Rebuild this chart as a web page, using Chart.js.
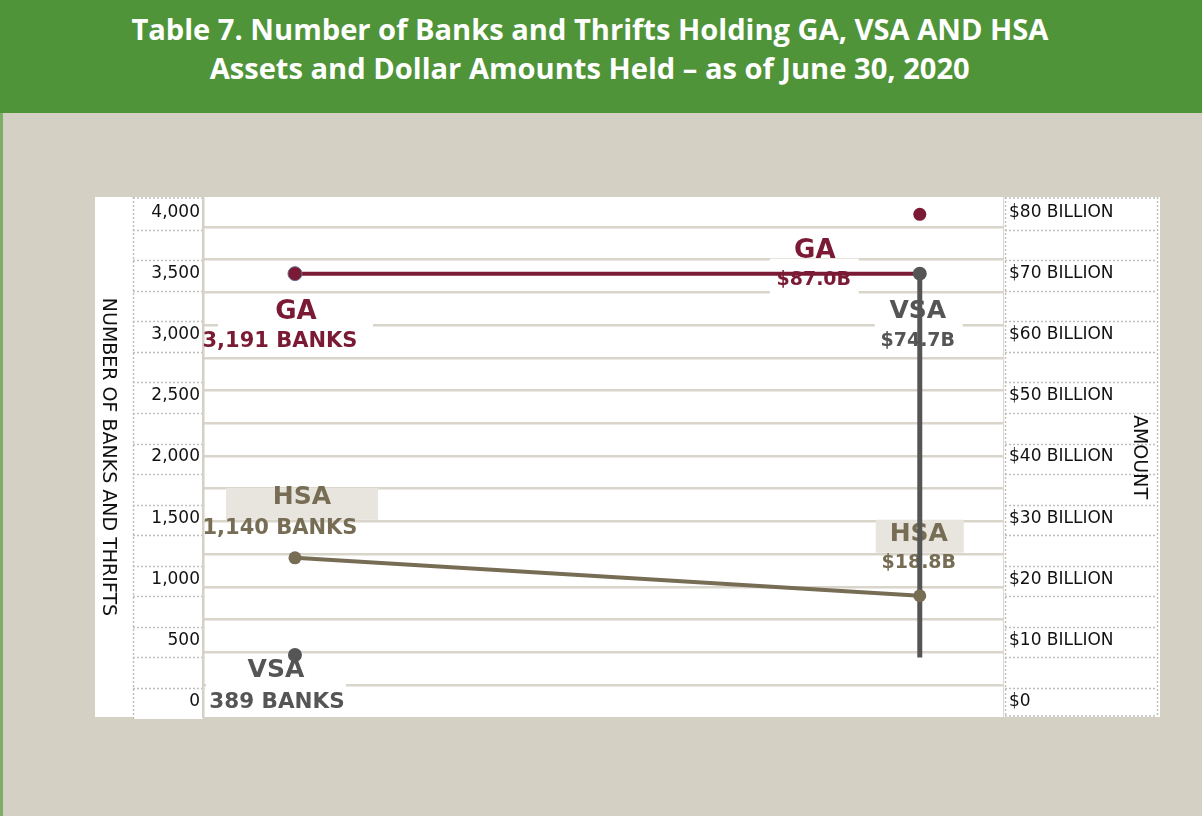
<!DOCTYPE html>
<html>
<head>
<meta charset="utf-8">
<script src="https://cdn.jsdelivr.net/npm/chart.js@4/dist/chart.umd.min.js"></script>
<style>
html,body{margin:0;padding:0;}
body{width:1202px;height:816px;overflow:hidden;background:#D4D0C4;position:relative;}
#hdr{position:absolute;left:0;top:0;width:1202px;height:113px;background:#4F9439;}
.tl{position:absolute;left:0;width:1180px;text-align:center;color:#fff;font-family:"Open Sans";font-weight:bold;font-size:29px;line-height:29px;white-space:nowrap;}
.tl span{display:inline-block;transform-origin:50% 50%;}
#edge{position:absolute;left:0;top:113px;width:3px;height:703px;background:#7DAF66;}
#cv{position:absolute;left:0;top:0;}
</style>
</head>
<body>
<div id="hdr">
  <div class="tl" id="t1" style="top:14px"><span>Table 7. Number of Banks and Thrifts Holding GA, VSA AND HSA</span></div>
  <div class="tl" id="t2" style="top:53px"><span>Assets and Dollar Amounts Held – as of June 30, 2020</span></div>
</div>
<div id="edge"></div>
<canvas id="cv" width="1202" height="816"></canvas>
<script>
// ---------- data ----------
const categories   = ['NUMBER OF BANKS AND THRIFTS', 'AMOUNT'];   // x = 0 and x = 1
const bankTicks    = [0, 500, 1000, 1500, 2000, 2500, 3000, 3500, 4000];
const amountTicks  = [0, 10, 20, 30, 40, 50, 60, 70, 80];          // $ billion
const seriesNames  = ['GA', 'VSA', 'HSA'];
const bankDots     = [3500, 380, 1175];   // left-hand dots, on the banks axis
const amountDots   = [70, 70, 17.3];      // right-hand dots, on the $ billion axis
const bankText     = ['3,191 BANKS', '389 BANKS', '1,140 BANKS'];
const amountText   = ['$87.0B', '$74.7B', '$18.8B'];
const vsaDropEnd   = [7.2];               // $ billion, lower end of the VSA drop line
const gaExtraDot   = [79.7];              // $ billion, lone GA marker near the top

// ---------- styling / layout ----------
const RATIO = bankTicks[bankTicks.length - 1] / amountTicks[amountTicks.length - 1];
const COL = { GA: '#7B1A35', VSA: '#555555', HSA: '#776D55' };
const BOX_BEIGE = '#E8E5DE';
const Y_MIN = -127, Y_MAX = 4127;

// title fitting (line 1 spans ~917px in the reference)
(function fitTitle(){
  const s1 = document.querySelector('#t1 span'), s2 = document.querySelector('#t2 span');
  const k = 917 / s1.getBoundingClientRect().width;
  s1.style.transform = 'scaleX(' + k + ')';
  s2.style.transform = 'scaleX(' + k + ')';
})();

// label layout: offsets (px) from the anchor dot, per series and side
const labelLayout = [
  { s: 0, side: 'L', box: [-77, 24, 155, 55, '#ffffff'], name: [1, 36, 26], val: [-15, 66, 21] },
  { s: 1, side: 'L', box: [-89, 25, 140, 37, '#ffffff'], name: [-19, 13, 25], val: [-18, 45, 21.5] },
  { s: 2, side: 'L', box: [-69, -70, 152, 32, BOX_BEIGE], name: [7, -63, 25], val: [-15, -32, 21] },
  { s: 0, side: 'R', box: [-150, -15, 89, 37, '#ffffff'], name: [-105, -25, 26], val: [-106, 4, 19] },
  { s: 1, side: 'R', box: [-45, 46, 88, 34, '#ffffff'], name: [-2, 35, 25], val: [-2, 65, 19] },
  { s: 2, side: 'R', box: [-44, -76, 88, 33, BOX_BEIGE], name: [-1, -64, 25], val: [-1, -35, 19] }
];

const decor = {
  id: 'decor',
  beforeDraw(chart) {
    const ctx = chart.ctx, ca = chart.chartArea, y = chart.scales.y;
    ctx.save();
    ctx.fillStyle = '#ffffff';
    ctx.fillRect(95, ca.top, 1160 - 95, ca.bottom - ca.top);
    ctx.fillRect(133, ca.bottom, 70, 2);
    // dotted band lines in the tick columns
    ctx.strokeStyle = '#BEBEBE';
    ctx.lineWidth = 1.5;
    ctx.setLineDash([2, 2]);
    const step = (bankTicks[1] - bankTicks[0]) / 2;
    const hl = (x1, x2, py) => { ctx.beginPath(); ctx.moveTo(x1, py); ctx.lineTo(x2, py); ctx.stroke(); };
    const vl = (px, y1, y2) => { ctx.beginPath(); ctx.moveTo(px, y1); ctx.lineTo(px, y2); ctx.stroke(); };
    for (let v = 110; v < Y_MAX - 100; v += step) {
      const py = Math.round(y.getPixelForValue(v)) + 0.5;
      hl(133, ca.left, py);
      hl(ca.right + 2, 1157, py);
    }
    hl(133, ca.left, ca.top + 1);
    hl(ca.right + 2, 1157, ca.top + 1);
    hl(ca.right + 2, 1157, ca.bottom - 1);
    vl(133.5, ca.top, ca.bottom + 2);
    vl(ca.right + 2.5, ca.top, ca.bottom);
    vl(1157.5, ca.top, ca.bottom);
    ctx.setLineDash([]);
    ctx.strokeStyle = '#DDD9CF';
    ctx.lineWidth = 1;
    vl(ca.right + 0.5, ca.top, ca.bottom);
    ctx.restore();
  },
  beforeDatasetsDraw(chart) {
    const ctx = chart.ctx, xs = chart.scales.x, ys = chart.scales.y, ys2 = chart.scales.y2;
    ctx.save();
    labelLayout.forEach(L => {
      const ax = xs.getPixelForValue(L.side === 'L' ? 0 : 1);
      const ay = L.side === 'L' ? ys.getPixelForValue(bankDots[L.s]) : ys2.getPixelForValue(amountDots[L.s]);
      const b = L.box;
      ctx.fillStyle = b[4];
      ctx.fillRect(ax + b[0], ay + b[1], b[2], b[3]);
      const col = COL[seriesNames[L.s]];
      ctx.fillStyle = col;
      ctx.textAlign = 'center';
      ctx.textBaseline = 'alphabetic';
      ctx.font = 'bold ' + L.name[2] + 'px "DejaVu Sans"';
      ctx.fillText(seriesNames[L.s], ax + L.name[0], ay + L.name[1] + 0.365 * L.name[2]);
      ctx.font = 'bold ' + L.val[2] + 'px "DejaVu Sans"';
      const t = L.side === 'L' ? bankText[L.s] : amountText[L.s];
      ctx.fillText(t, ax + L.val[0], ay + L.val[1] + 0.365 * L.val[2]);
    });
    ctx.restore();
  },
  afterDraw(chart) {
    const ctx = chart.ctx, ca = chart.chartArea;
    const cy = (ca.top + ca.bottom) / 2;
    ctx.save();
    ctx.fillStyle = '#111111';
    ctx.font = '19px "DejaVu Sans"';
    ctx.textAlign = 'center';
    ctx.textBaseline = 'middle';
    [[108, categories[0]], [1139, categories[1]]].forEach(([px, txt]) => {
      ctx.save();
      ctx.translate(px, cy);
      ctx.rotate(Math.PI / 2);
      ctx.fillText(txt, 0, 0);
      ctx.restore();
    });
    ctx.restore();
  }
};

const pt = (x, y) => ({ x, y });
const datasets = [
  { label: 'HSA', data: [pt(0, bankDots[2]), pt(1, amountDots[2] * RATIO)],
    borderColor: COL.HSA, backgroundColor: COL.HSA, borderWidth: 4,
    pointRadius: 6.5, pointBackgroundColor: COL.HSA, pointBorderWidth: 0 },
  { label: 'VSA drop', data: [pt(1, amountDots[1] * RATIO), pt(1, vsaDropEnd[0] * RATIO)],
    borderColor: COL.VSA, backgroundColor: COL.VSA, borderWidth: 5,
    pointRadius: [7, 0], pointBackgroundColor: COL.VSA, pointBorderWidth: 0 },
  { label: 'GA', data: [pt(0, bankDots[0]), pt(1, amountDots[0] * RATIO)],
    borderColor: COL.GA, backgroundColor: COL.GA, borderWidth: 4,
    pointRadius: [7, 0], pointBackgroundColor: COL.GA, pointBorderColor: '#65708A', pointBorderWidth: 1 },
  { label: 'VSA banks', data: [pt(0, bankDots[1])], showLine: false,
    pointRadius: 7, pointBackgroundColor: COL.VSA, pointBorderWidth: 0 },
  { label: 'GA extra', data: [pt(1, gaExtraDot[0] * RATIO)], showLine: false,
    pointRadius: 6.5, pointBackgroundColor: COL.GA, pointBorderWidth: 0 }
];

new Chart(document.getElementById('cv'), {
  type: 'line',
  data: { datasets },
  plugins: [decor],
  options: {
    responsive: false,
    animation: false,
    devicePixelRatio: 1,
    layout: { padding: { left: 95, right: 42, top: 197, bottom: 99 } },
    plugins: { legend: { display: false }, tooltip: { enabled: false } },
    elements: { line: { tension: 0 } },
    scales: {
      x: { type: 'linear', min: -0.1472, max: 1.1332, display: false },
      yg: {
        position: 'left', min: Y_MIN, max: Y_MAX,
        afterBuildTicks: s => { const t = []; for (let k = 0; k < 15; k++) t.push({ value: 135 + 267.6 * k }); s.ticks = t; },
        afterFit: s => { s.width = 0; },
        ticks: { display: false },
        grid: { color: '#D9D5CB', lineWidth: 2.5, drawTicks: false },
        border: { display: false }
      },
      y: {
        position: 'left', min: Y_MIN, max: Y_MAX,
        afterBuildTicks: s => { s.ticks = bankTicks.map(v => ({ value: v })); },
        afterFit: s => { s.width = 108; },
        ticks: { callback: v => v.toLocaleString('en-US'), color: '#111', padding: 3,
                 font: { family: 'DejaVu Sans', size: 17 } },
        grid: { display: false, drawTicks: false },
        border: { display: true, color: '#D4D0C4', width: 2.5 }
      },
      y2: {
        position: 'right', min: Y_MIN / RATIO, max: Y_MAX / RATIO,
        afterBuildTicks: s => { s.ticks = amountTicks.map(v => ({ value: v })); },
        afterFit: s => { s.width = 157; },
        ticks: { callback: v => v === 0 ? '$0' : '$' + v + ' BILLION', color: '#111', padding: 6,
                 font: { family: 'DejaVu Sans', size: 17 } },
        grid: { display: false, drawTicks: false },
        border: { display: false }
      }
    }
  }
});
</script>
</body>
</html>
